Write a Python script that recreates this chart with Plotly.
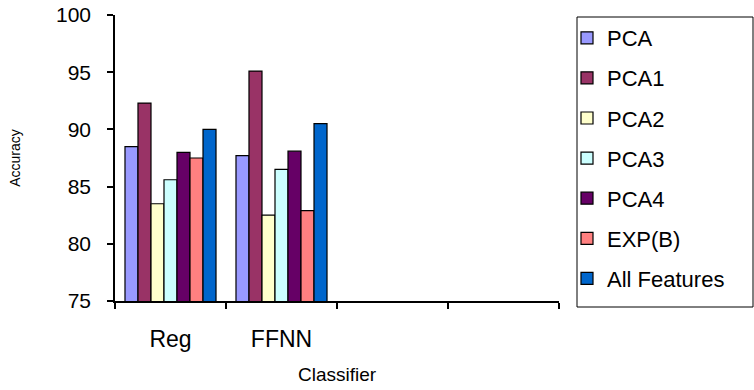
import plotly.graph_objects as go

categories = ["Reg", "FFNN", " ", "  "]
series_names = ["PCA", "PCA1", "PCA2", "PCA3", "PCA4", "EXP(B)", "All Features"]
pca = [88.5, 87.7]
pca1 = [92.3, 95.1]
pca2 = [83.5, 82.5]
pca3 = [85.6, 86.5]
pca4 = [88.0, 88.1]
expb = [87.5, 82.9]
all_features = [90.0, 90.5]
series_values = [pca, pca1, pca2, pca3, pca4, expb, all_features]
colors = ["#9999FF", "#993366", "#FFFFCC", "#CCFFFF", "#660066", "#FF8080", "#0066CC"]
y_ticks = [75, 80, 85, 90, 95, 100]

FONT = "Liberation Sans, Arial, sans-serif"

fig = go.Figure()
for i, (name, vals, col) in enumerate(zip(series_names, series_values, colors)):
    fig.add_trace(go.Bar(
        x=categories[:len(vals)], y=vals, name=name,
        marker=dict(color=col, line=dict(color="black", width=1.2)),
        legendgroup="g%d" % i,
    ))

# legend frame (paper coords relative to plot area 115..559 x 15..301)
fig.add_shape(type="rect", xref="paper", yref="paper",
              x0=(577 - 115) / 444, x1=(753 - 115) / 444,
              y0=(301 - 307) / 286, y1=(301 - 17) / 286,
              line=dict(color="black", width=1), fillcolor="rgba(0,0,0,0)")

fig.update_layout(
    width=754, height=390,
    margin=dict(l=115, r=195, t=15, b=89),
    paper_bgcolor="white", plot_bgcolor="white",
    font=dict(family=FONT, color="black", size=21),
    barmode="group", bargap=0.18, bargroupgap=0,
    showlegend=True,
    legend=dict(
        x=(567 - 115) / 444, y=0.993, xanchor="left", yanchor="top",
        borderwidth=0, bgcolor="rgba(0,0,0,0)",
        font=dict(family=FONT, size=22, color="black"),
        tracegroupgap=8.5, traceorder="grouped",
    ),
    xaxis=dict(
        type="category", categoryorder="array", categoryarray=categories,
        range=[-0.5, 3.5], showline=True, linecolor="black", linewidth=1.5,
        ticks="outside", ticklen=6, tickcolor="black", tickwidth=1.5,
        tickson="boundaries", showgrid=False, zeroline=False,
        tickfont=dict(family=FONT, size=23), ticklabelstandoff=17,
        title=dict(text="Classifier", font=dict(family=FONT, size=19), standoff=16),
        automargin=False,
    ),
    yaxis=dict(
        range=[75, 100], tickvals=y_ticks, showline=True, linecolor="black", linewidth=1.5,
        ticks="outside", ticklen=6, tickcolor="black", tickwidth=1.5,
        showgrid=False, zeroline=False,
        tickfont=dict(family=FONT, size=21), ticklabelstandoff=12,
        title=dict(text="Accuracy", font=dict(family=FONT, size=14), standoff=32),
        automargin=False,
    ),
)

fig.write_html("out.html")
